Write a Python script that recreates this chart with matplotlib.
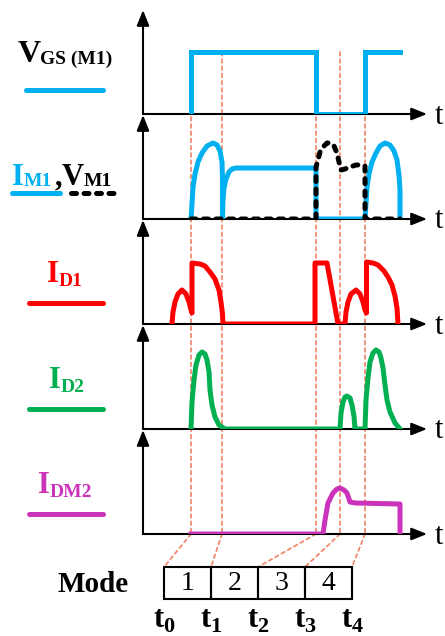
import matplotlib
matplotlib.use("Agg")
import matplotlib.pyplot as plt
from matplotlib.patches import ConnectionPatch, Rectangle

plt.rcParams["font.family"] = ["Liberation Serif", "DejaVu Serif"]

BLUE = "#00B0F0"
RED = "#FF0000"
GREEN = "#00B050"
MAGENTA = "#CC33BB"
GUIDE = "#F08A6E"

# switching instants and mode names
t_marks = [48, 79, 173, 197, 222]
t_subs = ["0", "1", "2", "3", "4"]
mode_names = ["1", "2", "3", "4"]

# waveforms (time, amplitude)
vgs_t = [48, 48, 173, 173, 222, 222, 257]
vgs_v = [0, 62, 62, 0, 0, 62, 62]

im1_t = [48, 49, 50, 52, 55, 59, 64, 70, 74, 77, 79, 79.5, 79.5,
         80, 81, 83, 86, 89, 93, 173, 173,
         222, 223, 224, 226, 229, 233, 237, 242, 247, 251, 254, 256, 257, 257]
im1_v = [0, 15, 32, 45, 57, 66, 73, 76, 74, 68, 57, 39, 0,
         19, 31, 40, 47, 50, 51, 51, 0,
         0, 15, 32, 45, 57, 66, 73, 76, 74, 68, 59, 44, 29, 0]

vm1_t = [48, 173, 173, 175, 177, 180, 184, 188, 191, 194, 196, 198,
         202, 207, 213, 219, 222, 222, 257]
vm1_v = [0, 0, 52, 59, 67, 72, 76, 76, 73, 66, 57, 49,
         50, 52, 54, 54, 53, 0, 0]

id1_t = [29, 30, 32, 35, 39, 43, 46, 48, 49, 49,
         57, 62, 67, 72, 76, 78, 79.5, 80,
         172, 172, 184, 195, 202,
         203, 205, 208, 213, 217, 220, 222, 223.5, 223.5,
         230, 235, 241, 245, 249, 252, 254, 255]
id1_v = [0, 12, 22, 30, 34, 30, 22, 14, 11, 61,
         60, 58, 52, 45, 34, 22, 10, 0,
         0, 61, 61, 0, 0,
         12, 22, 30, 34, 30, 22, 14, 11, 62,
         61, 59, 53, 47, 39, 28, 16, 0]

id2_t = [48, 49, 51, 53, 56, 59, 62, 64, 66, 67, 69, 72, 76, 82,
         197, 198, 200, 202, 204, 207, 209, 211, 212,
         222, 223, 225, 227, 230, 233, 236, 238, 240, 242, 244, 247, 252, 257]
id2_v = [0, 27, 49, 64, 74, 77, 75, 69, 57, 39, 24, 12, 4, 0,
         0, 16, 27, 32, 33, 31, 24, 13, 0,
         0, 29, 51, 67, 76, 79, 77, 71, 61, 44, 29, 17, 6, 0]

idm2_t = [48, 180, 182, 185, 190, 194, 197, 201, 204, 207, 212, 257, 257]
idm2_v = [0, 0, 14, 31, 41, 45, 46, 44, 41, 32, 31, 30, 0]

W, H = 445, 636
fig = plt.figure(figsize=(W / 100, H / 100), dpi=100)
renderer = fig.canvas.get_renderer()

# overlay in pixel units for labels and mode box
ov = fig.add_axes([0, 0, 1, 1])
ov.set_xlim(0, W)
ov.set_ylim(H, 0)
ov.set_axis_off()


def sub_label(x, y, main, sub, color="k", size=22, sub_size=14, drop=4, ha="left"):
    a = ov.text(0, y, main, fontsize=size, fontweight="bold", color=color, va="baseline")
    b = ov.text(0, y + drop, sub, fontsize=sub_size, fontweight="bold", color=color,
                va="baseline")
    wa = a.get_window_extent(renderer).width
    wb = b.get_window_extent(renderer).width
    start = x - (wa + wb) / 2 if ha == "center" else x
    a.set_x(start)
    b.set_x(start + wa)


baselines = [114, 219, 324, 429, 534]
panel_h = 104
x0, x1 = 143, 427
axes = []
for yb in baselines:
    ax = fig.add_axes([x0 / W, (H - yb) / H, (x1 - x0) / W, panel_h / H])
    ax.set_xlim(0, x1 - x0)
    ax.set_ylim(0, panel_h)
    ax.set_axis_off()
    ax.patch.set_alpha(0)
    arrow = dict(arrowstyle="-|>,head_length=0.55,head_width=0.22", lw=1.5,
                 color="k", shrinkA=0, shrinkB=0, mutation_scale=17)
    ax.annotate("", xy=(1, 0), xytext=(0, 0), xycoords="axes fraction",
                arrowprops=arrow, zorder=1, annotation_clip=False)
    ax.annotate("", xy=(0, 1), xytext=(0, 0), xycoords="axes fraction",
                arrowprops=arrow, zorder=1, annotation_clip=False)
    ov.text(435, yb + 2, "t", fontsize=22, ha="left", va="center")
    axes.append(ax)

lw = 3.6
dash = (0, (1.0, 1.5))
axes[0].plot(vgs_t, vgs_v, color=BLUE, lw=lw, solid_joinstyle="miter", zorder=3)
axes[1].plot(im1_t, im1_v, color=BLUE, lw=lw, zorder=3)
axes[1].plot(vm1_t, vm1_v, color="k", lw=lw, ls=dash, dash_capstyle="round", zorder=4)
axes[2].plot(id1_t, id1_v, color=RED, lw=lw, zorder=3)
axes[3].plot(id2_t, id2_v, color=GREEN, lw=lw, zorder=3)
axes[4].plot(idm2_t, idm2_v, color=MAGENTA, lw=lw, zorder=3)

# vertical guides through all panels
for t in t_marks:
    cp = ConnectionPatch(xyA=(t, 62), coordsA=axes[0].transData,
                         xyB=(t, 0), coordsB=axes[4].transData,
                         color=GUIDE, lw=1.3, ls=(0, (2, 2)), zorder=-1)
    fig.add_artist(cp)

# mode table
box_x, box_y, cell_w, cell_h = 164, 567, 47, 32
for i, name in enumerate(mode_names):
    ov.add_patch(Rectangle((box_x + i * cell_w, box_y), cell_w, cell_h,
                           fill=False, lw=1.5, ec="k"))
    ov.text(box_x + (i + 0.5) * cell_w, box_y + cell_h / 2 + 1, name,
            fontsize=20, ha="center", va="center")
for i, (t, sub) in enumerate(zip(t_marks, t_subs)):
    cp = ConnectionPatch(xyA=(t, 0), coordsA=axes[4].transData,
                         xyB=(box_x + i * cell_w, box_y), coordsB=ov.transData,
                         color=GUIDE, lw=1.3, ls=(0, (2, 2)), zorder=-1)
    fig.add_artist(cp)
    sub_label(box_x + i * cell_w, 627, "t", sub, size=22, sub_size=16, drop=5,
              ha="center")
ov.text(93, 584, "Mode", fontsize=21, fontweight="bold", ha="center", va="center")

# legend labels on the left
sub_label(65, 62, "V", "GS (M1)", size=23, sub_size=14, drop=2, ha="center")
ov.plot([26, 103], [90, 90], color=BLUE, lw=lw, solid_capstyle="round")

sub_label(12, 185, "I", "M1", color=BLUE, size=22, sub_size=14, drop=1)
ov.text(55, 185, ",", fontsize=22, fontweight="bold", ha="left", va="baseline")
sub_label(62, 185, "V", "M1", size=22, sub_size=14, drop=1)
ov.plot([12, 60], [193, 193], color=BLUE, lw=lw, solid_capstyle="round")
ov.plot([71, 118], [193, 193], color="k", lw=lw, ls=dash, dash_capstyle="round")

sub_label(65, 282, "I", "D1", color=RED, drop=4, ha="center")
ov.plot([29, 103], [303, 303], color=RED, lw=lw, solid_capstyle="round")

sub_label(67, 388, "I", "D2", color=GREEN, drop=4, ha="center")
ov.plot([29, 103], [409, 409], color=GREEN, lw=lw, solid_capstyle="round")

sub_label(65, 493, "I", "DM2", color=MAGENTA, drop=4, ha="center")
ov.plot([29, 103], [514, 514], color=MAGENTA, lw=lw, solid_capstyle="round")

fig.savefig("out.png", dpi=100)
